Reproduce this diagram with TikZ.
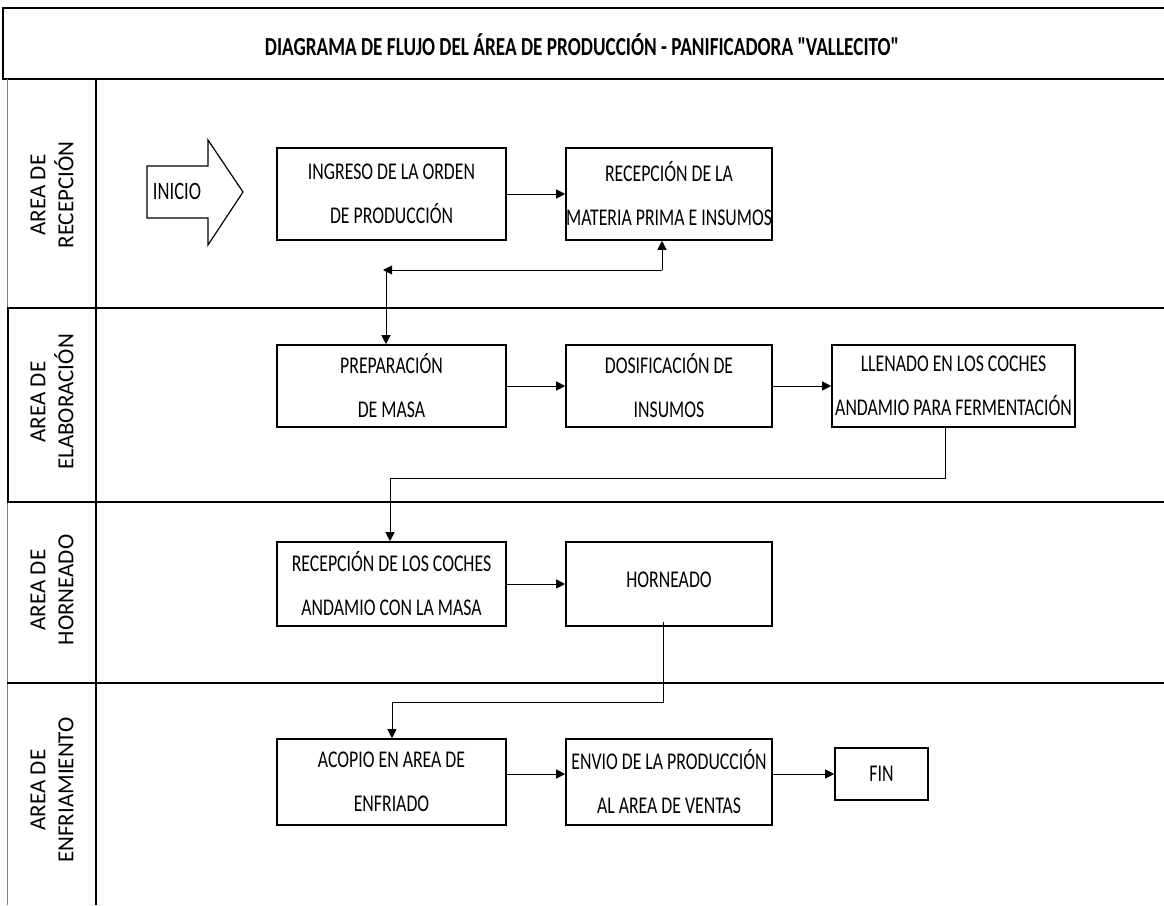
\documentclass[tikz,border=0pt]{standalone}
\usepackage{fontspec}
\setmainfont{Carlito}[FakeStretch=0.74, Ligatures=TeXOff]
\newfontfamily\lanefont{Carlito}
\usetikzlibrary{arrows.meta}

\begin{document}
\begin{tikzpicture}[x=1pt, y=-1pt,
    procstyle/.style={rectangle, draw, line width=1.6pt, minimum width=229pt, minimum height=82pt, inner sep=0pt, align=center, font=\fontsize{24}{44}\selectfont},
    flowstyle/.style={-{Triangle[length=9pt,width=9pt]}, line width=0.9pt},
    lanestyle/.style={rotate=90, align=center, font=\lanefont\fontsize{23}{28}\selectfont},
    framestyle/.style={line width=1.6pt}
]
    \useasboundingbox (0,0) rectangle (1164,905);

    % marco y carriles
    \draw[framestyle] (1170,8) -- (3,8) -- (3,79) -- (1170,79);
    \draw[gray, line width=0.8pt] (7,79) -- (7,905);
    \draw[framestyle] (96,79) -- (96,905);
    \draw[framestyle] (7,308) -- (1170,308);
    \draw[framestyle] (7,502) -- (1170,502);
    \draw[framestyle] (7,683) -- (1170,683);
    \draw[framestyle] (8,308) -- (8,502);

    \node[font=\bfseries\fontsize{26}{30}\selectfont] (title) at (582,45) {DIAGRAMA DE FLUJO DEL ÁREA DE PRODUCCIÓN - PANIFICADORA "VALLECITO"};

    \node[lanestyle] (lane1) at (52,195) {AREA DE\\RECEPCIÓN};
    \node[lanestyle] (lane2) at (52,402) {AREA DE\\ELABORACIÓN};
    \node[lanestyle] (lane3) at (52,590) {AREA DE\\HORNEADO};
    \node[lanestyle] (lane4) at (52,790) {AREA DE\\ENFRIAMIENTO};

    % inicio
    \draw[line width=1.2pt] (147,166) -- (208,166) -- (208,140) -- (243,192) -- (208,245) -- (208,218) -- (147,218) -- cycle;
    \node[font=\fontsize{25}{28}\selectfont] (inicio) at (177,191) {INICIO};

    % pasos
    \node[procstyle, minimum height=92pt] (ingreso) at (391.5,194) {INGRESO DE LA ORDEN\\DE PRODUCCIÓN};
    \node[procstyle, minimum width=206pt, minimum height=92pt] (recepcion) at (669,194) {RECEPCIÓN DE LA\\MATERIA PRIMA E INSUMOS};
    \node[procstyle, minimum height=82pt] (preparacion) at (391.5,386) {PREPARACIÓN\\DE MASA};
    \node[procstyle, minimum width=206pt, minimum height=82pt] (dosificacion) at (669,386) {DOSIFICACIÓN DE\\INSUMOS};
    \node[procstyle, minimum width=243pt, minimum height=82pt] (llenado) at (953.5,386) {LLENADO EN LOS COCHES\\ANDAMIO PARA FERMENTACIÓN};
    \node[procstyle, minimum height=84pt] (coches) at (391.5,584) {RECEPCIÓN DE LOS COCHES\\ANDAMIO CON LA MASA};
    \node[procstyle, minimum width=206pt, minimum height=84pt] (horneado) at (669,584) {\raisebox{8pt}{HORNEADO}};
    \node[procstyle, minimum height=86pt] (acopio) at (391.5,782) {ACOPIO EN AREA DE\\ENFRIADO};
    \node[procstyle, minimum width=206pt, minimum height=86pt] (envio) at (669,782) {ENVIO DE LA PRODUCCIÓN\\AL AREA DE VENTAS};
    \node[procstyle, minimum width=93pt, minimum height=52pt] (fin) at (881.5,774) {FIN};

    \coordinate (c1) at (662,270);
    \coordinate (c2) at (383,270);
    \coordinate (c3) at (945,478);
    \coordinate (c4) at (390,478);
    \coordinate (c5) at (663,702);
    \coordinate (c6) at (392,702);

    % conectores
    \draw[flowstyle] (ingreso) -- (recepcion);
    \draw[flowstyle] (c1) -- (c1 |- recepcion.south);
    \draw[flowstyle] (c1) -- (c2);
    \draw[flowstyle] (c2 -| 386,0) -- (preparacion.north -| 386,0);
    \draw[flowstyle] (preparacion) -- (dosificacion);
    \draw[flowstyle] (dosificacion) -- (llenado);
    \draw[flowstyle] (llenado.south -| c3) -- (c3) -- (c4) -- (c4 |- coches.north);
    \draw[flowstyle] (coches) -- (horneado);
    \draw[flowstyle] ([yshift=5pt]c5 |- horneado.south) -- (c5) -- (c6) -- (c6 |- acopio.north);
    \draw[flowstyle] (acopio.east |- fin) -- (envio.west |- fin);
    \draw[flowstyle] (envio.east |- fin) -- (fin.west);
\end{tikzpicture}
\end{document}
